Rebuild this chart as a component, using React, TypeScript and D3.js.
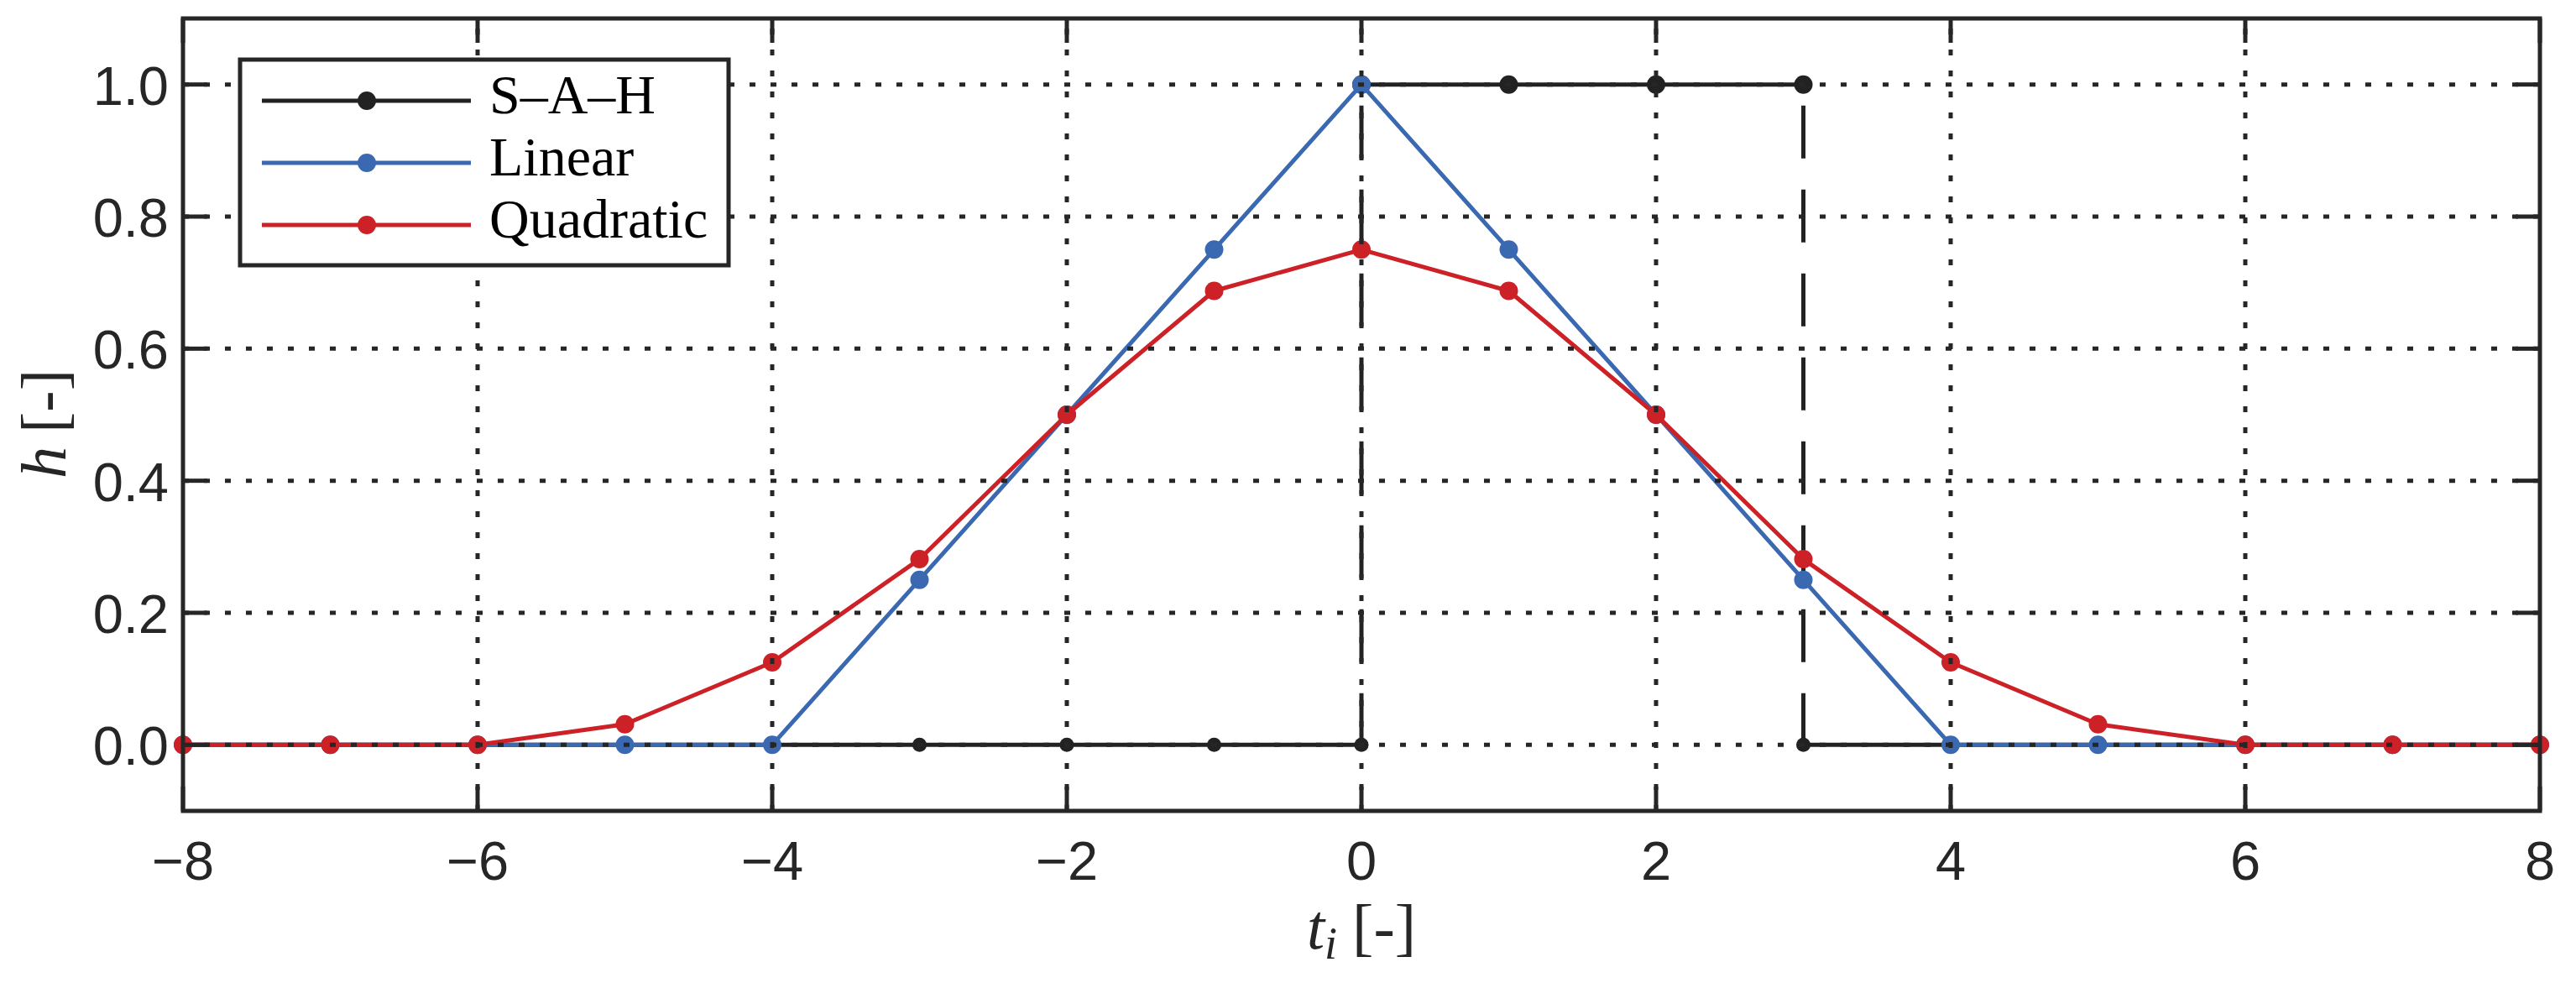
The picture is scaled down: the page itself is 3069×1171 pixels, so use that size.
import React from "react";
import * as d3 from "d3";

// sample positions and the three interpolation kernels
const tSamples = [-8, -7, -6, -5, -4, -3, -2, -1, 0, 1, 2, 3, 4, 5, 6, 7, 8];
const linearH = [0, 0, 0, 0, 0, 0.25, 0.5, 0.75, 1, 0.75, 0.5, 0.25, 0, 0, 0, 0, 0];
const quadraticH = [0, 0, 0, 0.03125, 0.125, 0.28125, 0.5, 0.6875, 0.75, 0.6875, 0.5, 0.28125, 0.125, 0.03125, 0, 0, 0];

// sample-and-hold has a step up at 0 and a step down at 3
const sahT = [-8, -7, -6, -5, -4, -3, -2, -1, 0, 0, 1, 2, 3, 3, 4, 5, 6, 7, 8];
const sahH = [0, 0, 0, 0, 0, 0, 0, 0, 0, 1, 1, 1, 1, 0, 0, 0, 0, 0, 0];

const xTicks = [-8, -6, -4, -2, 0, 2, 4, 6, 8];
const yTicks = [0, 0.2, 0.4, 0.6, 0.8, 1.0];
const seriesNames = ["S\u2013A\u2013H", "Linear", "Quadratic"];

const W = 3069;
const H = 1171;
const box = { left: 218, right: 3026, top: 22, bottom: 966 };
const ink = "#262626";
const colors = ["#222222", "#3A69B2", "#CD2128"];
const sans = "'Liberation Sans', Arial, Helvetica, sans-serif";
const serif = "'Liberation Serif', 'Times New Roman', serif";

const x = d3.scaleLinear().domain([-8, 8]).range([box.left, box.right]);
const y = d3.scaleLinear().domain([-0.1, 1.1]).range([box.bottom, box.top]);

type Pt = [number, number];
const line = d3
    .line<Pt>()
    .x((d) => x(d[0]))
    .y((d) => y(d[1]));

const zipPts = (ts: number[], hs: number[]): Pt[] => ts.map((t, i) => [t, hs[i]]);

// split S-A-H into solid runs and dashed vertical jumps
const sahPts = zipPts(sahT, sahH);
const sahRuns: Pt[][] = [];
const sahJumps: [Pt, Pt][] = [];
let run: Pt[] = [sahPts[0]];
for (let i = 1; i < sahPts.length; i++) {
    const prev = sahPts[i - 1];
    const cur = sahPts[i];
    if (cur[0] === prev[0]) {
        sahRuns.push(run);
        sahJumps.push([prev, cur]);
        run = [cur];
    } else {
        run.push(cur);
    }
}
sahRuns.push(run);

const App = () => {
    const linPts = zipPts(tSamples, linearH);
    const quadPts = zipPts(tSamples, quadraticH);
    const tickLen = 29;

    return (
        <svg
            width={W}
            height={H}
            viewBox={`0 0 ${W} ${H}`}
            style={{ position: "absolute", left: 0, top: 0, background: "#fff" }}
        >
            <rect x={0} y={0} width={W} height={H} fill="#fff" />

            {/* S-A-H */}
            <g>
                {sahRuns.map((r, i) => (
                    <path key={"r" + i} d={line(r) || ""} fill="none" stroke={colors[0]} strokeWidth={5} />
                ))}
                {sahJumps.map(([a, b], i) => {
                    const top = Math.max(a[1], b[1]);
                    const bot = Math.min(a[1], b[1]);
                    return (
                        <line
                            key={"j" + i}
                            x1={x(a[0])}
                            x2={x(a[0])}
                            y1={y(top)}
                            y2={y(bot)}
                            stroke={colors[0]}
                            strokeWidth={5}
                            strokeDasharray="63 37"
                            strokeDashoffset={75}
                        />
                    );
                })}
                {sahPts.map((p, i) => (
                    <circle key={"m" + i} cx={x(p[0])} cy={y(p[1])} r={p[1] > 0 ? 11 : 8.5} fill={colors[0]} />
                ))}
            </g>

            {/* Linear */}
            <g>
                <path d={line(linPts) || ""} fill="none" stroke={colors[1]} strokeWidth={5} strokeLinejoin="round" />
                {linPts.map((p, i) => (
                    <circle key={i} cx={x(p[0])} cy={y(p[1])} r={11} fill={colors[1]} />
                ))}
            </g>

            {/* Quadratic */}
            <g>
                <path d={line(quadPts) || ""} fill="none" stroke={colors[2]} strokeWidth={5} strokeLinejoin="round" />
                {quadPts.map((p, i) => (
                    <circle key={i} cx={x(p[0])} cy={y(p[1])} r={11} fill={colors[2]} />
                ))}
            </g>

            {/* dotted grid on top of the data */}
            <g stroke={ink} strokeWidth={5} strokeDasharray="7 18">
                {xTicks.slice(1, -1).map((t) => (
                    <line key={"gx" + t} x1={x(t)} x2={x(t)} y1={box.bottom} y2={box.top} />
                ))}
                {yTicks.map((t) => (
                    <line key={"gy" + t} x1={box.left} x2={box.right} y1={y(t)} y2={y(t)} />
                ))}
            </g>

            {/* ticks on all four sides, pointing in */}
            <g stroke={ink} strokeWidth={5}>
                {xTicks.map((t) => (
                    <g key={"tx" + t}>
                        <line x1={x(t)} x2={x(t)} y1={box.bottom} y2={box.bottom - tickLen} />
                        <line x1={x(t)} x2={x(t)} y1={box.top} y2={box.top + tickLen} />
                    </g>
                ))}
                {yTicks.map((t) => (
                    <g key={"ty" + t}>
                        <line x1={box.left} x2={box.left + tickLen} y1={y(t)} y2={y(t)} />
                        <line x1={box.right} x2={box.right - tickLen} y1={y(t)} y2={y(t)} />
                    </g>
                ))}
            </g>
            <rect
                x={box.left}
                y={box.top}
                width={box.right - box.left}
                height={box.bottom - box.top}
                fill="none"
                stroke={ink}
                strokeWidth={5}
            />

            {/* tick labels */}
            <g fill={ink} fontFamily={sans} fontSize={65}>
                {xTicks.map((t) => (
                    <text key={"lx" + t} x={x(t)} y={1048} textAnchor="middle">
                        {t < 0 ? "\u2212" + Math.abs(t) : String(t)}
                    </text>
                ))}
                {yTicks.map((t) => (
                    <text key={"ly" + t} x={201} y={y(t) + 24} textAnchor="end">
                        {d3.format(".1f")(t)}
                    </text>
                ))}
            </g>

            {/* axis labels */}
            <text x={x(0)} y={1130} textAnchor="middle" fontFamily={serif} fontSize={76} fill={ink}>
                <tspan fontStyle="italic">t</tspan>
                <tspan fontStyle="italic" fontSize={54} dy={12}>
                    i
                </tspan>
                <tspan dy={-12} dx={18}>
                    [-]
                </tspan>
            </text>
            <text
                transform={`translate(78, ${505}) rotate(-90)`}
                textAnchor="middle"
                fontFamily={serif}
                fontSize={76}
                fill={ink}
            >
                <tspan fontStyle="italic">h</tspan>
                <tspan dx={16}>[-]</tspan>
            </text>

            {/* legend */}
            <g>
                <rect x={286} y={71} width={582} height={245} fill="#fff" stroke={ink} strokeWidth={5} />
                {seriesNames.map((name, i) => {
                    const cy = 120 + i * 74;
                    return (
                        <g key={name}>
                            <line x1={312} x2={561} y1={cy} y2={cy} stroke={colors[i]} strokeWidth={5} />
                            <circle cx={437} cy={cy} r={11} fill={colors[i]} />
                            <text x={583} y={cy + 15} fontFamily={serif} fontSize={66} fill="#000">
                                {name}
                            </text>
                        </g>
                    );
                })}
            </g>
        </svg>
    );
};

export default App;
